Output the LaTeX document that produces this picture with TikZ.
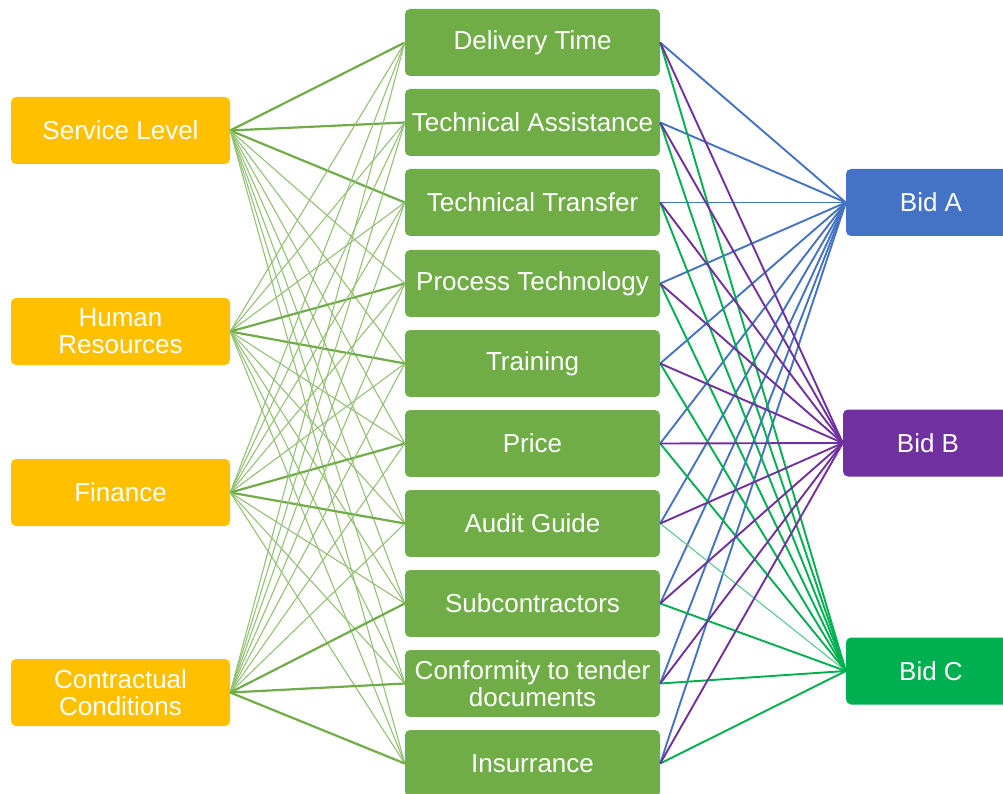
\documentclass[tikz,border=0pt]{standalone}
\usepackage{fontspec}
\setmainfont{Liberation Sans}
\usepackage{tikz}
\definecolor{critorange}{HTML}{FFC000}
\definecolor{subgreen}{HTML}{70AD47}
\definecolor{bidblue}{HTML}{4472C4}
\definecolor{bidpurple}{HTML}{7030A0}
\definecolor{bidgreen}{HTML}{00B050}
\tikzset{
  box/.style={rectangle, rounded corners=5pt, text=white, inner sep=0pt, align=center,
    minimum height=67pt, font=\fontsize{26}{27}\selectfont},
  critbox/.style={box, fill=critorange, minimum width=219pt},
  subbox/.style={box, fill=subgreen, minimum width=255pt},
  bidbox/.style={box, minimum width=170pt},
  mainlink/.style={line width=2.2pt, color=subgreen},
  sidelink/.style={line width=1.1pt, color=subgreen!75},
  bidlink/.style={line width=1.9pt}
}

\begin{document}
\begin{tikzpicture}[x=1pt,y=-1pt]
			%%%%% START %%%%%
			\useasboundingbox (0,0) rectangle (1003,794);
			
			\node[critbox] (sl) at (120.5, 130.5) {Service Level};
			\node[critbox] (hr) at (120.5, 331.5) {Human\\Resources};
			\node[critbox] (fin) at (120.5, 492.5) {Finance};
			\node[critbox] (cc) at (120.5, 692.5) {Contractual\\Conditions};
			
			\node[subbox] (dt) at (532.5, 42.5) {Delivery Time};
			\node[subbox] (ta) at (532.5, 122.5) {Technical Assistance};
			\node[subbox] (tt) at (532.5, 202.5) {Technical Transfer};
			\node[subbox] (pt) at (532.5, 283.5) {Process Technology};
			\node[subbox] (tr) at (532.5, 363.5) {Training};
			\node[subbox] (pr) at (532.5, 443.5) {Price};
			\node[subbox] (ag) at (532.5, 523.5) {Audit Guide};
			\node[subbox] (sc) at (532.5, 603.5) {Subcontractors};
			\node[subbox] (ct) at (532.5, 683.5) {Conformity to tender\\documents};
			\node[subbox] (ins) at (532.5, 763.5) {Insurrance};
			
			\node[bidbox, fill=bidblue] (ba) at (931, 202.5) {Bid A};
			\node[bidbox, fill=bidpurple] (bb) at (928, 443) {Bid B};
			\node[bidbox, fill=bidgreen] (bc) at (931, 671) {Bid C};
			
			% service level
			\draw[mainlink] (sl.east) -- (dt.west);
			\draw[mainlink] (sl.east) -- (ta.west);
			\draw[mainlink] (sl.east) -- (tt.west);
			\draw[sidelink] (sl.east) -- (pt.west);
			\draw[sidelink] (sl.east) -- (tr.west);
			\draw[sidelink] (sl.east) -- (pr.west);
			\draw[sidelink] (sl.east) -- (ag.west);
			\draw[sidelink] (sl.east) -- (sc.west);
			\draw[sidelink] (sl.east) -- (ct.west);
			\draw[sidelink] (sl.east) -- (ins.west);
			
			% human resources
			\draw[sidelink] (hr.east) -- (dt.west);
			\draw[sidelink] (hr.east) -- (ta.west);
			\draw[sidelink] (hr.east) -- (tt.west);
			\draw[mainlink] (hr.east) -- (pt.west);
			\draw[mainlink] (hr.east) -- (tr.west);
			\draw[sidelink] (hr.east) -- (pr.west);
			\draw[sidelink] (hr.east) -- (ag.west);
			\draw[sidelink] (hr.east) -- (sc.west);
			\draw[sidelink] (hr.east) -- (ct.west);
			\draw[sidelink] (hr.east) -- (ins.west);
			
			% finance
			\draw[sidelink] (fin.east) -- (dt.west);
			\draw[sidelink] (fin.east) -- (ta.west);
			\draw[sidelink] (fin.east) -- (tt.west);
			\draw[sidelink] (fin.east) -- (pt.west);
			\draw[sidelink] (fin.east) -- (tr.west);
			\draw[mainlink] (fin.east) -- (pr.west);
			\draw[mainlink] (fin.east) -- (ag.west);
			\draw[sidelink] (fin.east) -- (sc.west);
			\draw[sidelink] (fin.east) -- (ct.west);
			\draw[sidelink] (fin.east) -- (ins.west);
			
			% contractual conditions
			\draw[sidelink] (cc.east) -- (dt.west);
			\draw[sidelink] (cc.east) -- (ta.west);
			\draw[sidelink] (cc.east) -- (tt.west);
			\draw[sidelink] (cc.east) -- (pt.west);
			\draw[sidelink] (cc.east) -- (tr.west);
			\draw[sidelink] (cc.east) -- (pr.west);
			\draw[sidelink] (cc.east) -- (ag.west);
			\draw[mainlink] (cc.east) -- (sc.west);
			\draw[mainlink] (cc.east) -- (ct.west);
			\draw[mainlink] (cc.east) -- (ins.west);
			
			% bid A
			\draw[bidlink, bidblue] (dt.east) -- (ba.west);
			\draw[bidlink, bidblue] (ta.east) -- (ba.west);
			\draw[bidlink, bidblue] (tt.east) -- (ba.west);
			\draw[bidlink, bidblue] (pt.east) -- (ba.west);
			\draw[bidlink, bidblue] (tr.east) -- (ba.west);
			\draw[bidlink, bidblue] (pr.east) -- (ba.west);
			\draw[bidlink, bidblue] (ag.east) -- (ba.west);
			\draw[bidlink, bidblue] (sc.east) -- (ba.west);
			\draw[bidlink, bidblue] (ct.east) -- (ba.west);
			\draw[bidlink, bidblue] (ins.east) -- (ba.west);
			
			% bid C
			\draw[bidlink, bidgreen] (dt.east) -- (bc.west);
			\draw[bidlink, bidgreen] (ta.east) -- (bc.west);
			\draw[bidlink, bidgreen] (tt.east) -- (bc.west);
			\draw[bidlink, bidgreen] (pt.east) -- (bc.west);
			\draw[bidlink, bidgreen] (tr.east) -- (bc.west);
			\draw[bidlink, bidgreen] (pr.east) -- (bc.west);
			\draw[line width=1pt, bidgreen!70] (ag.east) -- (bc.west);
			\draw[bidlink, bidgreen] (sc.east) -- (bc.west);
			\draw[bidlink, bidgreen] (ct.east) -- (bc.west);
			\draw[bidlink, bidgreen] (ins.east) -- (bc.west);
			
			% bid B
			\draw[bidlink, bidpurple] (dt.east) -- (bb.west);
			\draw[bidlink, bidpurple] (ta.east) -- (bb.west);
			\draw[bidlink, bidpurple] (tt.east) -- (bb.west);
			\draw[bidlink, bidpurple] (pt.east) -- (bb.west);
			\draw[bidlink, bidpurple] (tr.east) -- (bb.west);
			\draw[bidlink, bidpurple] (pr.east) -- (bb.west);
			\draw[bidlink, bidpurple] (ag.east) -- (bb.west);
			\draw[bidlink, bidpurple] (sc.east) -- (bb.west);
			\draw[bidlink, bidpurple] (ct.east) -- (bb.west);
			\draw[bidlink, bidpurple] (ins.east) -- (bb.west);
			
			%%%%% END %%%%%
\end{tikzpicture}
\end{document}
